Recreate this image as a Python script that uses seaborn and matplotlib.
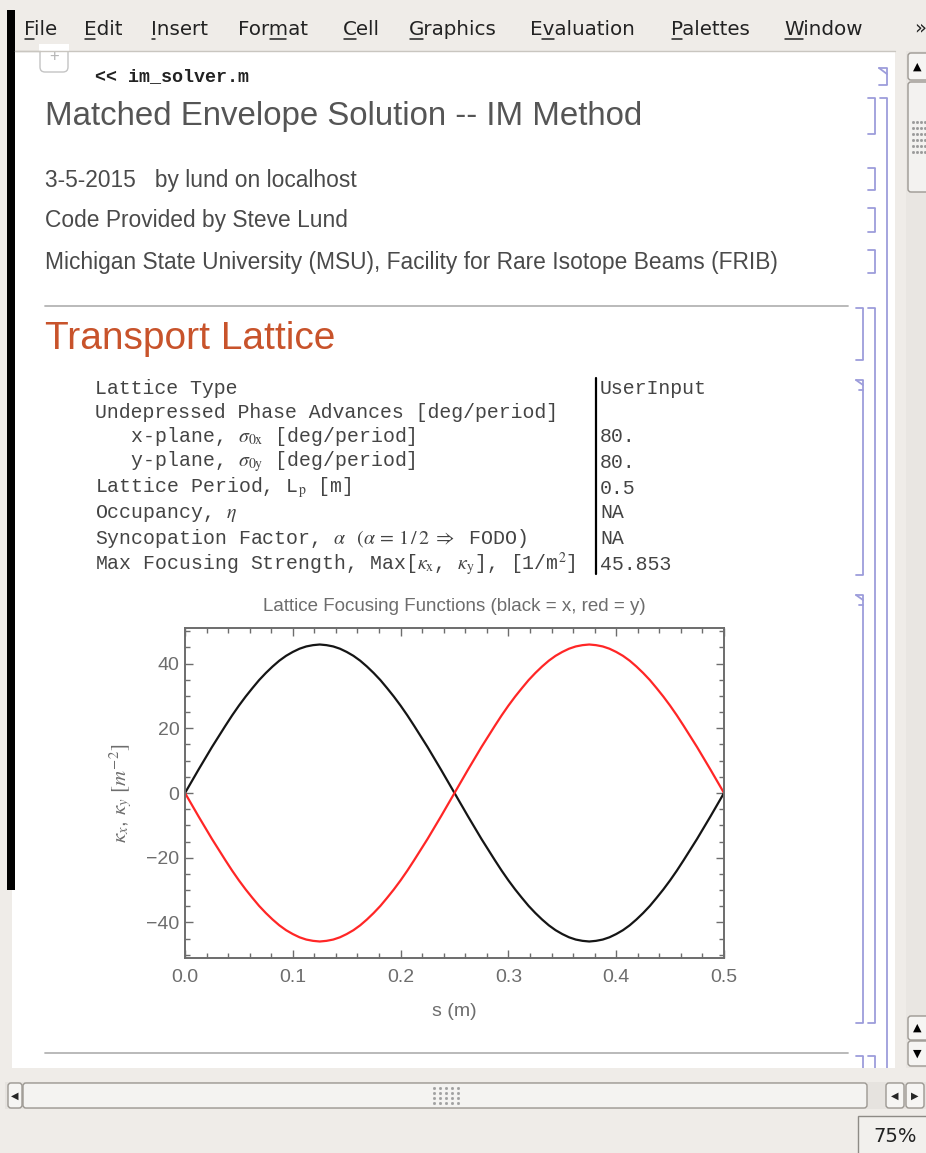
"""
Mathematica notebook screenshot: IM matched envelope solver, lattice focusing functions.
"""
import numpy as np
import pandas as pd
import matplotlib
matplotlib.use("Agg")
import matplotlib.pyplot as plt
import seaborn as sns
from matplotlib.patches import Rectangle, FancyBboxPatch
from matplotlib.ticker import MultipleLocator
from matplotlib.textpath import TextPath
from matplotlib.font_manager import FontProperties

# ── Data ──────────────────────────────────────────────────
s_m = [0.0, 0.00625, 0.0125, 0.01875, 0.025, 0.03125, 0.0375, 0.04375,
       0.05, 0.05625, 0.0625, 0.06875, 0.075, 0.08125, 0.0875, 0.09375,
       0.1, 0.10625, 0.1125, 0.11875, 0.125, 0.13125, 0.1375, 0.14375,
       0.15, 0.15625, 0.1625, 0.16875, 0.175, 0.18125, 0.1875, 0.19375,
       0.2, 0.20625, 0.2125, 0.21875, 0.225, 0.23125, 0.2375, 0.24375,
       0.25, 0.25625, 0.2625, 0.26875, 0.275, 0.28125, 0.2875, 0.29375,
       0.3, 0.30625, 0.3125, 0.31875, 0.325, 0.33125, 0.3375, 0.34375,
       0.35, 0.35625, 0.3625, 0.36875, 0.375, 0.38125, 0.3875, 0.39375,
       0.4, 0.40625, 0.4125, 0.41875, 0.425, 0.43125, 0.4375, 0.44375,
       0.45, 0.45625, 0.4625, 0.46875, 0.475, 0.48125, 0.4875, 0.49375,
       0.5]
kappa_x = [0.0, 3.6, 7.2, 10.7, 14.2, 17.5, 20.8, 24.0,
           27.0, 29.8, 32.4, 34.9, 37.1, 39.1, 40.9, 42.4,
           43.6, 44.6, 45.3, 45.7, 45.9, 45.7, 45.3, 44.6,
           43.6, 42.4, 40.9, 39.1, 37.1, 34.9, 32.4, 29.8,
           27.0, 24.0, 20.8, 17.5, 14.2, 10.7, 7.2, 3.6,
           0.0, -3.6, -7.2, -10.7, -14.2, -17.5, -20.8, -24.0,
           -27.0, -29.8, -32.4, -34.9, -37.1, -39.1, -40.9, -42.4,
           -43.6, -44.6, -45.3, -45.7, -45.9, -45.7, -45.3, -44.6,
           -43.6, -42.4, -40.9, -39.1, -37.1, -34.9, -32.4, -29.8,
           -27.0, -24.0, -20.8, -17.5, -14.2, -10.7, -7.2, -3.6,
           0.0]
kappa_y = [0.0, -3.6, -7.2, -10.7, -14.2, -17.5, -20.8, -24.0,
           -27.0, -29.8, -32.4, -34.9, -37.1, -39.1, -40.9, -42.4,
           -43.6, -44.6, -45.3, -45.7, -45.9, -45.7, -45.3, -44.6,
           -43.6, -42.4, -40.9, -39.1, -37.1, -34.9, -32.4, -29.8,
           -27.0, -24.0, -20.8, -17.5, -14.2, -10.7, -7.2, -3.6,
           0.0, 3.6, 7.2, 10.7, 14.2, 17.5, 20.8, 24.0,
           27.0, 29.8, 32.4, 34.9, 37.1, 39.1, 40.9, 42.4,
           43.6, 44.6, 45.3, 45.7, 45.9, 45.7, 45.3, 44.6,
           43.6, 42.4, 40.9, 39.1, 37.1, 34.9, 32.4, 29.8,
           27.0, 24.0, 20.8, 17.5, 14.2, 10.7, 7.2, 3.6,
           0.0]

x_ticks = [0.0, 0.1, 0.2, 0.3, 0.4, 0.5]
y_ticks = [-40, -20, 0, 20, 40]

menu_items = ["File", "Edit", "Insert", "Format", "Cell", "Graphics",
              "Evaluation", "Palettes", "Window"]
menu_mnemonic = [0, 0, 0, 3, 0, 0, 1, 0, 0]

header_lines = ["3-5-2015   by lund on localhost",
                "Code Provided by Steve Lund",
                "Michigan State University (MSU), Facility for Rare Isotope Beams (FRIB)"]

table_labels = [
    "Lattice Type",
    "Undepressed Phase Advances [deg/period]",
    r"   x-plane, $\sigma_{\mathrm{0x}}$ [deg/period]",
    r"   y-plane, $\sigma_{\mathrm{0y}}$ [deg/period]",
    r"Lattice Period, L$_{\mathrm{p}}$ [m]",
    r"Occupancy, $\eta$",
    r"Syncopation Factor, $\alpha$ $(\alpha\,=\,1\,/\,2\;\Rightarrow$ FODO)",
    r"Max Focusing Strength, Max[$\kappa_{\mathrm{x}}$, $\kappa_{\mathrm{y}}$], [1/m$^{2}$]",
]
table_values = ["UserInput", "", "80.", "80.", "0.5", "NA", "NA", "45.853"]

# ── Style ─────────────────────────────────────────────────
sns.set_theme(style="ticks")
plt.rcParams["font.family"] = ["Liberation Sans", "DejaVu Sans"]
plt.rcParams["mathtext.fontset"] = "stix"

W, H = 926, 1153
fig = plt.figure(figsize=(W / 100, H / 100), dpi=100)
fig.patch.set_facecolor("#efece8")

bg = fig.add_axes([0, 0, 1, 1])
bg.set_xlim(0, W)
bg.set_ylim(H, 0)
bg.axis("off")

BR = "#9d9ddb"      # cell bracket colour
GREY_TXT = "#4a4a4a"
MONO_TXT = "#444444"

# notebook page
bg.add_patch(Rectangle((12, 51), 895 - 12, 1068 - 51, fc="white", ec="none"))
bg.plot([15, 895], [51, 51], color="#c9c6c0", lw=1)
bg.add_patch(Rectangle((7, 10), 8, 880, fc="black", ec="none"))

# menu bar
fp_menu = FontProperties(family="DejaVu Sans", size=14.3)
menu_x = [24, 84, 151, 238, 343, 409, 530, 671, 784]
for label, mx, k in zip(menu_items, menu_x, menu_mnemonic):
    bg.text(mx, 35, label, fontsize=14.3, family="DejaVu Sans", color="#222222",
            va="baseline", ha="left")
    x0 = TextPath((0, 0), label[:k], prop=fp_menu, size=14.3).get_extents().x1 * 100 / 72 if k else 0
    x1 = TextPath((0, 0), label[:k + 1], prop=fp_menu, size=14.3).get_extents().x1 * 100 / 72
    bg.plot([mx + x0 + 1, mx + x1], [39, 39], color="#222222", lw=1.1)
bg.text(914, 28, "»", fontsize=14, family="DejaVu Sans", color="#222222", va="center")

# "+" cell insertion tab
bg.add_patch(FancyBboxPatch((40, 46), 28, 26, boxstyle="round,pad=0,rounding_size=5",
                            fc="white", ec="#c4c4c4", lw=1))
bg.add_patch(Rectangle((39, 44), 30, 7, fc="white", ec="none"))
bg.plot([15, 40], [51, 51], color="#c9c6c0", lw=1)
bg.text(54, 56, "+", fontsize=12, color="#b5b5b5", ha="center", va="center")

# input cell and headings
bg.text(95, 77, "<< im_solver.m", fontsize=13.2, family="Liberation Mono",
        fontweight="bold", color="#222222", va="center")
bg.text(45, 117, "Matched Envelope Solution -- IM Method", fontsize=23.8,
        color="#555555", va="center")
for y, line in zip([181, 220, 262], header_lines):
    bg.text(45, y, line, fontsize=16.4, color=GREY_TXT, va="center")
bg.plot([45, 848], [306, 306], color="#b4b4b4", lw=1.3)
bg.text(45, 339, "Transport Lattice", fontsize=28, color="#c8532b", va="center")

# parameter table
row_y = [389, 413, 437, 462, 488, 513, 538, 564]
for y, lab, val in zip(row_y, table_labels, table_values):
    bg.text(95, y, lab, fontsize=14.3, family="Liberation Mono", color=MONO_TXT, va="center")
    bg.text(600, y, val, fontsize=14.3, family="Liberation Mono", color=MONO_TXT, va="center")
bg.plot([596, 596], [378, 574], color="black", lw=1.6)

# separator for next section
bg.plot([45, 848], [1053, 1053], color="#b4b4b4", lw=1.3)


def bracket(x, y0, y1, w=7, top=True, bottom=True, marker=None):
    bg.plot([x, x], [y0, y1], color=BR, lw=1.3, solid_capstyle="butt")
    if top:
        bg.plot([x - w, x], [y0, y0], color=BR, lw=1.3)
    if bottom:
        bg.plot([x - w, x], [y1, y1], color=BR, lw=1.3)
    if marker == "in":
        bg.plot([x - w, x], [y0, y0 + 6], color=BR, lw=1.3)
    if marker == "out":
        bg.plot([x - w, x], [y0, y0 + 5], color=BR, lw=1.3)
        bg.plot([x - w + 3, x], [y0 + 10, y0 + 10], color=BR, lw=1.3)


bracket(887, 68, 85, w=8, marker="in")
bracket(887, 98, 1068, bottom=False)
bracket(875, 98, 134)
bracket(875, 168, 190)
bracket(875, 208, 232)
bracket(875, 250, 273)
bracket(875, 308, 1023)
bracket(863, 308, 360)
bracket(863, 380, 575, marker="out")
bracket(863, 595, 1023, marker="out")
bracket(863, 1056, 1068, bottom=False)
bracket(875, 1056, 1068, bottom=False)

# vertical scrollbar
bg.add_patch(Rectangle((906, 51), 20, 1017, fc="#e6e3df", ec="none", hatch="....",
                       alpha=0.6))
for (y0, y1, glyph) in [(53, 80, "▲"), (1016, 1040, "▲"), (1041, 1066, "▼")]:
    bg.add_patch(FancyBboxPatch((908, y0), 22, y1 - y0,
                                boxstyle="round,pad=0,rounding_size=3",
                                fc="#f6f5f3", ec="#9c9892", lw=1))
    bg.text(917, (y0 + y1) / 2, glyph, fontsize=8, family="DejaVu Sans",
            color="black", ha="center", va="center")
bg.add_patch(FancyBboxPatch((908, 82), 22, 110, boxstyle="round,pad=0,rounding_size=3",
                            fc="#f3f2f0", ec="#9c9892", lw=1))
for gy in range(122, 153, 6):
    for gx in range(913, 926, 4):
        bg.plot(gx, gy, marker="s", ms=1, color="#9a9a9a")

# horizontal scrollbar
bg.add_patch(Rectangle((5, 1082), 921, 27, fc="#e6e3df", ec="none"))
bg.add_patch(FancyBboxPatch((8, 1083), 14, 25, boxstyle="round,pad=0,rounding_size=3",
                            fc="#f6f5f3", ec="#9c9892", lw=1))
bg.text(15, 1095.5, "◀", fontsize=7, family="DejaVu Sans", ha="center", va="center")
bg.add_patch(FancyBboxPatch((23, 1083), 844, 25, boxstyle="round,pad=0,rounding_size=3",
                            fc="#f4f3f1", ec="#9c9892", lw=1))
for gy in range(1088, 1104, 5):
    for gx in range(434, 464, 6):
        bg.plot(gx, gy, marker="s", ms=1, color="#a0a0a0")
for (x0, glyph) in [(886, "◀"), (906, "▶")]:
    bg.add_patch(FancyBboxPatch((x0, 1083), 18, 25, boxstyle="round,pad=0,rounding_size=3",
                                fc="#f6f5f3", ec="#9c9892", lw=1))
    bg.text(x0 + 9, 1095.5, glyph, fontsize=7, family="DejaVu Sans", ha="center", va="center")

# zoom status box
bg.add_patch(Rectangle((858, 1116), 70, 40, fc="#f2f0ed", ec="#8e8b86", lw=1))
bg.text(873, 1137, "75%", fontsize=14, family="DejaVu Sans", color="#222222", va="center")

# ── Lattice focusing plot ─────────────────────────────────
ax_l, ax_r, ax_t, ax_b = 185, 724, 628, 958
ax = fig.add_axes([ax_l / W, 1 - ax_b / H, (ax_r - ax_l) / W, (ax_b - ax_t) / H])
ax.set_facecolor("white")

df = pd.DataFrame({
    "s": s_m + s_m,
    "kappa": kappa_x + kappa_y,
    "plane": ["x"] * len(s_m) + ["y"] * len(s_m),
})
sns.lineplot(data=df, x="s", y="kappa", hue="plane", estimator=None, sort=False,
             palette={"x": "#151515", "y": "#ff2626"}, linewidth=1.6,
             legend=False, ax=ax)

ax.set_xlim(0, 0.5)
ax.set_ylim(-51, 51)
ax.set_xticks(x_ticks)
ax.set_xticklabels([f"{t:.1f}" for t in x_ticks])
ax.set_yticks(y_ticks)
ax.set_yticklabels([f"\u2212{abs(t)}" if t < 0 else f"{t}" for t in y_ticks])
ax.xaxis.set_minor_locator(MultipleLocator(0.02))
ax.yaxis.set_minor_locator(MultipleLocator(5))
ax.tick_params(which="both", direction="in", top=True, right=True,
               color="#6d6d6d", width=1.0)
ax.tick_params(which="major", length=6)
ax.tick_params(which="minor", length=3.5)
ax.tick_params(axis="x", which="major", pad=8, labelsize=14, labelcolor="#6d6d6d")
ax.tick_params(axis="y", which="major", pad=4, labelsize=14, labelcolor="#6d6d6d")
for sp in ax.spines.values():
    sp.set_visible(True)
    sp.set_color("#6d6d6d")
    sp.set_linewidth(1.4)

ax.set_xlabel("s (m)", fontsize=14, color="#6d6d6d", labelpad=12)
ax.set_ylabel(r"$\kappa_x$, $\kappa_y$ $\left[m^{-2}\right]$", fontsize=15,
              color="#6d6d6d", labelpad=8)
ax.set_title("Lattice Focusing Functions (black = x, red = y)", fontsize=13.5,
             color="#6d6d6d", pad=12)

fig.savefig("out.png", dpi=100, facecolor=fig.get_facecolor())
plt.close(fig)
